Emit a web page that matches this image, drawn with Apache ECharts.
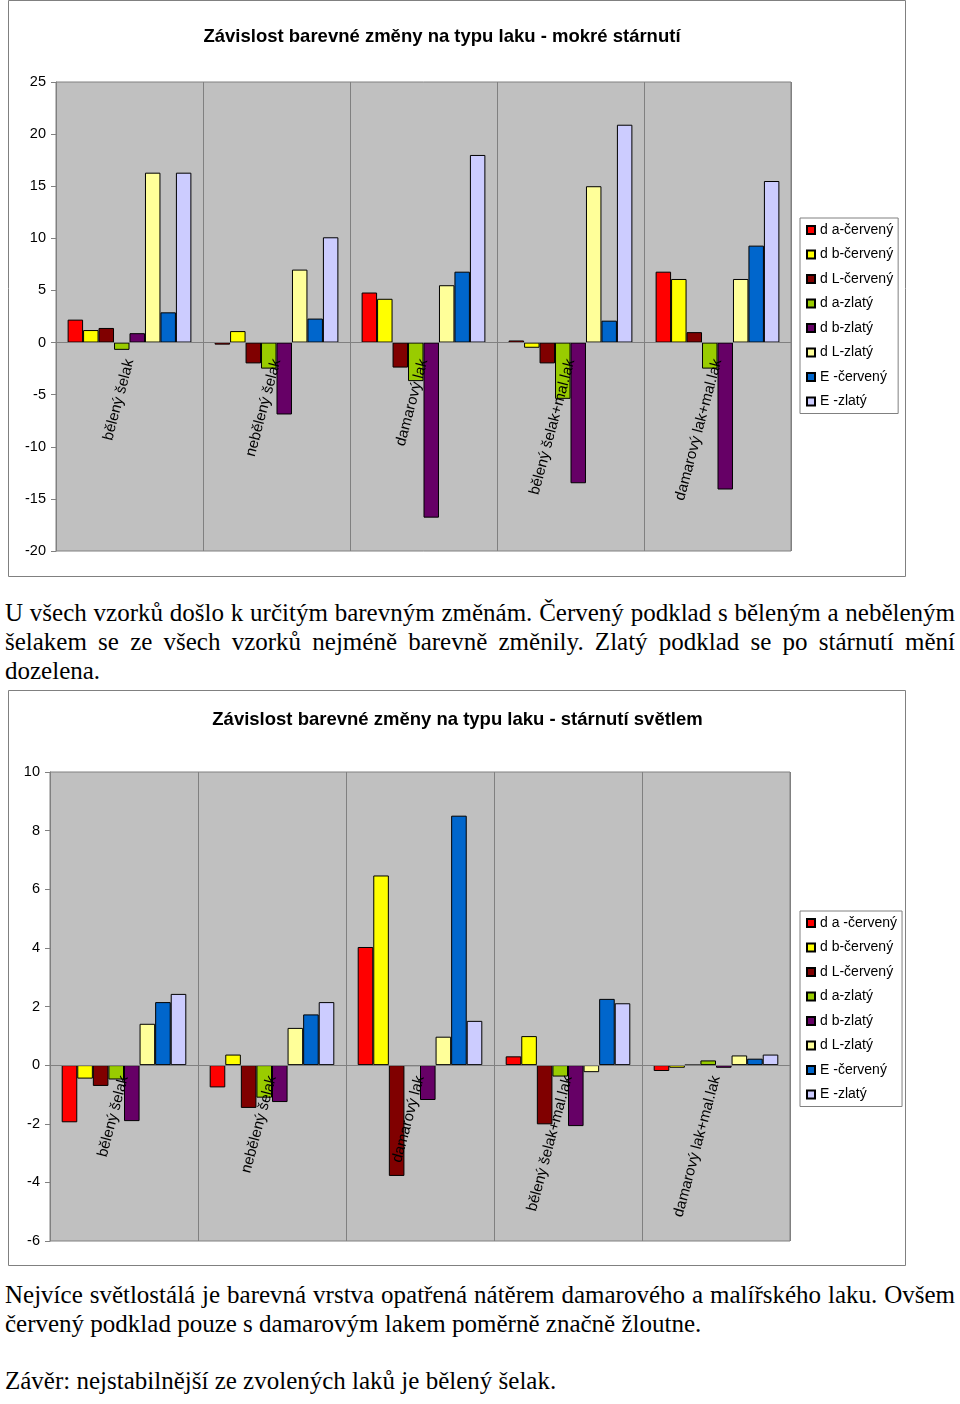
<!DOCTYPE html>
<html>
<head>
<meta charset="utf-8">
<script src="https://cdn.jsdelivr.net/npm/echarts@6/dist/echarts.min.js"></script>
<style>
  html, body { margin: 0; padding: 0; background: #fff; }
  body { width: 960px; height: 1404px; position: relative; overflow: hidden; }
  #c1 { position: absolute; left: 0; top: 0; width: 960px; height: 582px; }
  #c2 { position: absolute; left: 0; top: 684px; width: 960px; height: 588px; }
  .p { position: absolute; left: 5px; width: 950px; font-family: "Liberation Serif", "Times New Roman", serif;
       font-size: 25px; line-height: 29px; color: #000; }
  .p div { white-space: nowrap; }
  .p div.j { text-align: justify; text-align-last: justify; }
</style>
</head>
<body>
<div id="c1"></div>
<div class="p" style="top:598px">
  <div class="j">U všech vzorků došlo k určitým barevným změnám. Červený podklad s běleným a neběleným</div>
  <div class="j">šelakem se ze všech vzorků nejméně barevně změnily. Zlatý podklad se po stárnutí mění</div>
  <div>dozelena.</div>
</div>
<div id="c2"></div>
<div class="p" style="top:1280px">
  <div class="j">Nejvíce světlostálá je barevná vrstva opatřená nátěrem damarového a malířského laku. Ovšem</div>
  <div>červený podklad pouze s damarovým lakem poměrně značně žloutne.</div>
</div>
<div class="p" style="top:1366px">
  <div>Závěr: nejstabilnější ze zvolených laků je bělený šelak.</div>
</div>
<script>
// ---------- data ----------
const categories = ["bělený šelak", "nebělený šelak", "damarový lak", "bělený šelak+mal.lak", "damarový lak+mal.lak"];
const seriesColors = ["#FF0000", "#FFFF00", "#800000", "#99CC00", "#660066", "#FFFF99", "#0066CC", "#CCCCFF"];

// chart 1: mokré stárnutí
const title1 = "Závislost barevné změny na typu laku - mokré stárnutí";
const names1 = ["d a-červený", "d b-červený", "d L-červený", "d a-zlatý", "d b-zlatý", "d L-zlatý", "E -červený", "E -zlatý"];
const wet_da_cerveny = [2.2, -0.2, 4.8, 0.2, 6.8];
const wet_db_cerveny = [1.2, 1.1, 4.2, -0.5, 6.1];
const wet_dL_cerveny = [1.4, -2.0, -2.4, -2.0, 1.0];
const wet_da_zlaty   = [-0.7, -2.5, -3.7, -5.4, -2.5];
const wet_db_zlaty   = [0.9, -6.9, -16.8, -13.5, -14.1];
const wet_dL_zlaty   = [16.3, 7.0, 5.5, 15.0, 6.1];
const wet_E_cerveny  = [2.9, 2.3, 6.8, 2.1, 9.3];
const wet_E_zlaty    = [16.3, 10.1, 18.0, 20.9, 15.5];
const yTicks1 = { min: -20, max: 25, interval: 5 };

// chart 2: stárnutí světlem
const title2 = "Závislost barevné změny na typu laku - stárnutí světlem";
const names2 = ["d a -červený", "d b-červený", "d L-červený", "d a-zlatý", "d b-zlatý", "d L-zlatý", "E -červený", "E -zlatý"];
const light_da_cerveny = [-1.95, -0.76, 4.03, 0.30, -0.20];
const light_db_cerveny = [-0.46, 0.36, 6.47, 0.99, -0.09];
const light_dL_cerveny = [-0.71, -1.46, -3.78, -2.02, 0.0];
const light_da_zlaty   = [-0.49, -1.11, -0.03, -0.39, 0.16];
const light_db_zlaty   = [-1.91, -1.26, -1.19, -2.08, -0.09];
const light_dL_zlaty   = [1.41, 1.27, 0.97, -0.24, 0.33];
const light_E_cerveny  = [2.15, 1.73, 8.51, 2.26, 0.22];
const light_E_zlaty    = [2.43, 2.15, 1.51, 2.11, 0.36];
const yTicks2 = { min: -6, max: 10, interval: 2 };

const values1 = [wet_da_cerveny, wet_db_cerveny, wet_dL_cerveny, wet_da_zlaty, wet_db_zlaty, wet_dL_zlaty, wet_E_cerveny, wet_E_zlaty];
const values2 = [light_da_cerveny, light_db_cerveny, light_dL_cerveny, light_da_zlaty, light_db_zlaty, light_dL_zlaty, light_E_cerveny, light_E_zlaty];

// ---------- builder ----------
const FONT = "Liberation Sans, Arial, sans-serif";
function build(cfg) {
  const gh = cfg.grid[3];
  // move the category axis (line + labels) up to the zero level
  const zeroOffset = -gh * (0 - cfg.y.min) / (cfg.y.max - cfg.y.min);
  return {
    animation: false,
    textStyle: { fontFamily: FONT },
    graphic: [{
      type: 'rect', silent: true, z: -10,
      shape: { x: cfg.frame[0], y: cfg.frame[1], width: cfg.frame[2], height: cfg.frame[3] },
      style: { fill: '#fff', stroke: '#808080', lineWidth: 1 }
    }],
    title: {
      text: cfg.title, left: cfg.titleX, top: cfg.titleY, textAlign: 'center',
      textStyle: { fontFamily: FONT, fontSize: 18.5, fontWeight: 'bold', color: '#000' }
    },
    legend: {
      orient: 'vertical', left: cfg.legend[0], top: cfg.legend[1],
      padding: [5, 5, 5, 6], itemWidth: 8, itemHeight: 8, itemGap: 10.5,
      backgroundColor: '#fff', borderColor: '#808080', borderWidth: 1,
      icon: 'rect', selectedMode: false,
      textStyle: { fontFamily: FONT, fontSize: 14, color: '#000' },
      data: cfg.names
    },
    grid: {
      left: cfg.grid[0], top: cfg.grid[1], width: cfg.grid[2], height: gh,
      containLabel: false, outerBoundsMode: 'none',
      show: true, backgroundColor: '#C0C0C0', borderColor: '#808080', borderWidth: 1
    },
    xAxis: {
      type: 'category', data: categories, position: 'bottom', offset: zeroOffset, z: 5,
      axisLine: { onZero: false, lineStyle: { color: '#808080', width: 1 } },
      axisTick: { show: false },
      splitLine: { show: true, interval: 0, lineStyle: { color: '#808080', width: 1 } },
      axisLabel: { interval: 0, rotate: 75, margin: cfg.labelMargin, fontSize: 15, color: '#000', fontFamily: FONT }
    },
    yAxis: {
      type: 'value', min: cfg.y.min, max: cfg.y.max, interval: cfg.y.interval,
      axisLine: { show: true, lineStyle: { color: '#808080' } },
      axisTick: { show: true, length: 5, lineStyle: { color: '#808080' } },
      splitLine: { show: false },
      axisLabel: { fontSize: 14.5, color: '#000', margin: 10, fontFamily: FONT }
    },
    series: cfg.names.map((n, i) => ({
      name: n, type: 'bar', data: cfg.values[i],
      barGap: '0%', barCategoryGap: '15.8%',
      itemStyle: { color: seriesColors[i], borderColor: '#000', borderWidth: 1 }
    }))
  };
}

const ch1 = echarts.init(document.getElementById('c1'));
ch1.setOption(build({
  frame: [8.5, 0.5, 897, 576], title: title1, titleX: 437, titleY: 22,
  legend: [800, 218], grid: [56, 82, 735, 469], labelMargin: 17,
  y: yTicks1, names: names1, values: values1
}));

const ch2 = echarts.init(document.getElementById('c2'));
ch2.setOption(build({
  frame: [8.5, 6.5, 897, 575], title: title2, titleX: 452.5, titleY: 21,
  legend: [800, 227], grid: [50, 88, 740, 469], labelMargin: 11,
  y: yTicks2, names: names2, values: values2
}));
</script>
</body>
</html>
